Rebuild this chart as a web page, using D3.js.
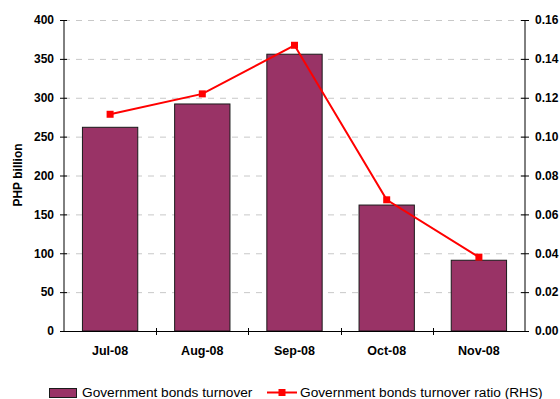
<!DOCTYPE html>
<html>
<head>
<meta charset="utf-8">
<script src="https://cdn.jsdelivr.net/npm/d3@7/dist/d3.min.js"></script>
<style>
  body { margin: 0; background: #fff; }
  svg { display: block; font-family: "Liberation Sans", Arial, sans-serif; }
</style>
</head>
<body>
<svg id="chart" width="560" height="399"></svg>
<script>
// Monthly government bond turnover (PHP billion) and turnover ratio
const months = ["Jul-08", "Aug-08", "Sep-08", "Oct-08", "Nov-08"];
const turnover = [262, 292, 356, 162, 91];
const turnoverRatio = [0.1115, 0.122, 0.147, 0.0675, 0.038];
const leftTicks = [0, 50, 100, 150, 200, 250, 300, 350, 400];
const rightTicks = [0, 0.02, 0.04, 0.06, 0.08, 0.10, 0.12, 0.14, 0.16];

const svg = d3.select("#chart");
const plotLeft = 64, plotRight = 525, plotTop = 20, plotBottom = 331;

const x = d3.scaleBand().domain(months).range([plotLeft, plotRight]).paddingInner(0.4).paddingOuter(0.2);
const xEdges = d3.scaleLinear().domain([0, months.length]).range([plotLeft, plotRight]);
const yL = d3.scaleLinear().domain([0, 400]).range([plotBottom, plotTop]);
const yR = d3.scaleLinear().domain([0, 0.16]).range([plotBottom, plotTop]);

// dashed gridlines
svg.append("g").selectAll("line").data(leftTicks.filter(d => d > 0)).join("line")
  .attr("x1", plotLeft).attr("x2", plotRight)
  .attr("y1", d => yL(d) + 0.5).attr("y2", d => yL(d) + 0.5)
  .attr("stroke", "#c8c8c8").attr("stroke-width", 1).attr("stroke-dasharray", "6,6");

// bars
svg.append("g").selectAll("rect").data(turnover).join("rect")
  .attr("x", (d, i) => x(months[i]))
  .attr("width", x.bandwidth())
  .attr("y", d => yL(d))
  .attr("height", d => plotBottom - yL(d))
  .attr("fill", "#993366").attr("stroke", "#1a1a1a").attr("stroke-width", 1);

// left axis
const axL = svg.append("g").attr("transform", `translate(${plotLeft},0)`)
  .call(d3.axisLeft(yL).tickValues(leftTicks).tickSize(4).tickPadding(6));
axL.selectAll(".tick line").attr("x2", 3).attr("x1", -4);
// right axis
const axR = svg.append("g").attr("transform", `translate(${plotRight},0)`)
  .call(d3.axisRight(yR).tickValues(rightTicks).tickFormat(d3.format(".2f")).tickSize(4).tickPadding(6));
axR.selectAll(".tick line").attr("x1", -4).attr("x2", 4);
[axL, axR].forEach(ax => {
  ax.select(".domain").attr("d", `M0,${plotTop}V${plotBottom}`).attr("stroke", "#000");
  ax.selectAll(".tick line").attr("stroke", "#000");
  ax.selectAll(".tick text").attr("font-size", 12).attr("font-weight", "bold").attr("fill", "#000");
});

// x axis baseline with ticks at category boundaries
svg.append("line").attr("x1", plotLeft).attr("x2", plotRight + 4)
  .attr("y1", plotBottom + 0.5).attr("y2", plotBottom + 0.5).attr("stroke", "#000");
svg.append("g").selectAll("line").data(d3.range(1, months.length)).join("line")
  .attr("x1", d => Math.round(xEdges(d)) + 0.5).attr("x2", d => Math.round(xEdges(d)) + 0.5)
  .attr("y1", plotBottom - 3).attr("y2", plotBottom + 4).attr("stroke", "#000");
svg.append("g").selectAll("text").data(months).join("text")
  .attr("x", d => x(d) + x.bandwidth() / 2).attr("y", 355)
  .attr("text-anchor", "middle").attr("font-size", 12.5).attr("font-weight", "bold")
  .text(d => d);

// y axis title
svg.append("text").attr("transform", "translate(22,175) rotate(-90)")
  .attr("text-anchor", "middle").attr("font-size", 12).attr("font-weight", "bold")
  .text("PHP billion");

// ratio line with square markers
const cx = i => x(months[i]) + x.bandwidth() / 2;
svg.append("path").datum(turnoverRatio)
  .attr("d", d3.line().x((d, i) => cx(i)).y(d => yR(d)))
  .attr("fill", "none").attr("stroke", "#ff0000").attr("stroke-width", 2);
svg.append("g").selectAll("rect").data(turnoverRatio).join("rect")
  .attr("x", (d, i) => cx(i) - 3.5).attr("y", d => yR(d) - 3.5)
  .attr("width", 7).attr("height", 7).attr("fill", "#ff0000");

// legend
const lg = svg.append("g");
lg.append("rect").attr("x", 49.5).attr("y", 388.5).attr("width", 27).attr("height", 9)
  .attr("fill", "#993366").attr("stroke", "#1a1a1a");
lg.append("text").attr("x", 82).attr("y", 397).attr("font-size", 13.7).text("Government bonds turnover");
lg.append("line").attr("x1", 267).attr("x2", 297).attr("y1", 392.5).attr("y2", 392.5)
  .attr("stroke", "#ff0000").attr("stroke-width", 2);
lg.append("rect").attr("x", 278.5).attr("y", 389).attr("width", 7).attr("height", 7).attr("fill", "#ff0000");
lg.append("text").attr("x", 300).attr("y", 397).attr("font-size", 13.7).text("Government bonds turnover ratio (RHS)");
</script>
</body>
</html>
